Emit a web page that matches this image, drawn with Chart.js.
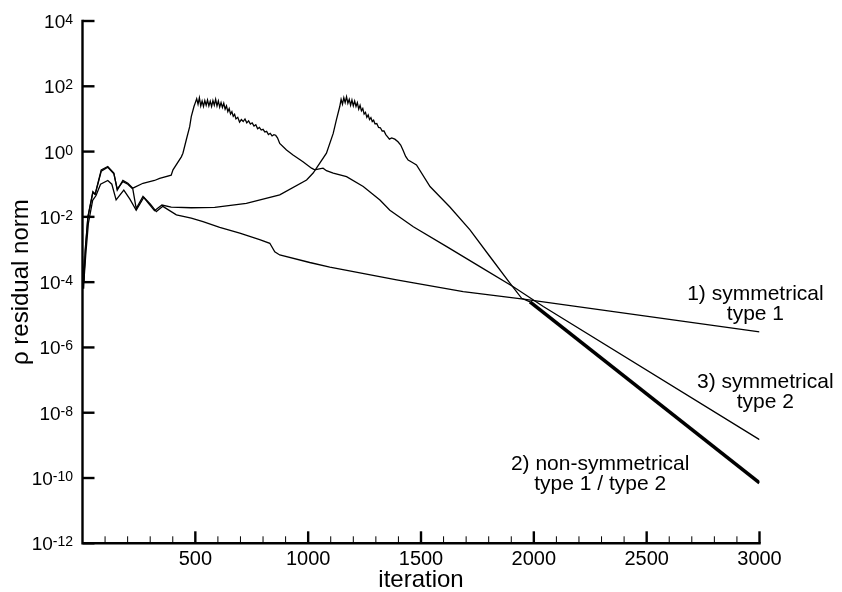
<!DOCTYPE html>
<html>
<head>
<meta charset="utf-8">
<script src="https://cdn.jsdelivr.net/npm/chart.js@4.4.1/dist/chart.umd.min.js"></script>
<style>
  html, body { margin: 0; padding: 0; background: #fff; }
  #wrap { width: 842px; height: 592px; position: relative; }
</style>
</head>
<body>
<div id="wrap"><canvas id="myChart"></canvas></div>
<script>
// 1) symmetrical type 1
const iterSym1 = [0, 6, 14, 26, 45, 60, 80, 112, 130, 149, 183, 210, 238, 272, 300, 327, 356, 416, 482, 534, 608, 697, 785, 830, 852, 874, 1007, 1096, 1392, 1687, 1954, 3000];
const resSym1 = [2.5e-4, 1e-4, 6.3e-4, 6.3e-3, 3.2e-2, 4.5e-2, 0.10, 0.13, 0.10, 3.3e-2, 6.6e-2, 3.5e-2, 1.6e-2, 4.0e-2, 2.5e-2, 1.45e-2, 2.1e-2, 1.15e-2, 9.1e-3, 7.1e-3, 4.8e-3, 3.2e-3, 2.0e-3, 1.55e-3, 8.5e-4, 6.8e-4, 4.0e-4, 2.9e-4, 1.17e-4, 5.1e-5, 3.0e-5, 3.0e-6];

// 3) symmetrical type 2 (first peak)
const iterSym2 = [0, 5, 12, 24, 46, 56, 83, 112, 139, 154, 179, 201, 223, 268, 319, 342, 393, 401, 438, 445, 460, 475, 482, 494,
    500, 506, 512, 518, 524, 530, 536, 542, 548, 554, 560, 566, 572, 578, 584, 590, 596, 602, 608, 614, 620, 626, 632, 638, 644, 650,
    656, 662, 668, 674, 680, 688, 696, 704, 712, 720, 728, 736, 744, 752, 760, 768, 776, 784, 792, 800, 808, 816, 824, 832, 840, 848,
    856, 864, 874, 904, 933, 977, 1015, 1029, 1044, 1066, 1081, 1111, 1170, 1244, 1318, 1362, 1466, 1614, 1761, 1909, 2042, 3000];
const resSym2 = [5.0e-4, 6.3e-5, 1.0e-3, 1.0e-2, 5.9e-2, 5.0e-2, 0.275, 0.35, 0.22, 6.6e-2, 0.13, 0.107, 7.6e-2, 0.107, 0.13, 0.15, 0.19, 0.275, 0.69, 0.89, 2.3, 5.8, 11.7, 24,
    31.6, 41.7, 28.2, 44.7, 25.1, 35.5, 24.0, 36.3, 26.3, 38.0, 25.1, 34.7, 24.0, 36.3, 26.3, 39.8, 25.1, 35.5, 22.9, 31.6, 22.4, 30.2, 20.0, 25.1, 16.6, 20.9,
    14.1, 16.6, 12.0, 13.8, 10.0, 11.2, 7.94, 9.55, 8.32, 10.0, 7.59, 8.71, 6.92, 7.59, 6.03, 6.61, 5.01, 5.50, 4.57, 4.79, 3.98, 4.17, 3.31, 3.63, 3.02, 3.31,
    3.16, 2.63, 1.78, 1.12, 0.79, 0.49, 0.31, 0.275, 0.29, 0.31, 0.26, 0.22, 0.17, 8.5e-2, 3.3e-2, 1.6e-2, 5.0e-3, 1.23e-3, 3.0e-4, 7.2e-5, 1.8e-5, 1.5e-9];

// 2) non-symmetrical type 1 / type 2 (second peak)
const iterNonSym = [0, 5, 12, 24, 46, 56, 83, 112, 139, 154, 179, 201, 223, 238, 268, 319, 352, 393, 482, 586, 726, 874, 993, 1022, 1081, 1111, 1125,
    1140, 1146, 1152, 1158, 1164, 1170, 1176, 1182, 1188, 1194, 1200, 1206, 1212, 1218, 1224, 1230, 1236, 1242, 1248, 1254, 1260, 1266, 1272, 1278,
    1284, 1290, 1296, 1304, 1312, 1320, 1328, 1336, 1344, 1352, 1360, 1370, 1384, 1398, 1410, 1420, 1432, 1443, 1460, 1480,
    1540, 1628, 1717, 1806, 1894, 1946, 1983, 3000];
const resNonSym = [6.3e-4, 1.0e-4, 7.9e-4, 1.0e-2, 5.6e-2, 4.8e-2, 0.25, 0.33, 0.21, 7.1e-2, 0.12, 0.10, 7.1e-2, 1.8e-2, 4.2e-2, 1.55e-2, 2.3e-2, 2.0e-2, 1.9e-2, 1.95e-2, 2.6e-2, 4.7e-2, 0.135, 0.22, 0.89, 3.6, 9.3,
    24.0, 39.8, 28.2, 44.7, 31.6, 47.9, 30.2, 39.8, 26.3, 38.0, 25.1, 35.5, 24.0, 31.6, 20.0, 26.3, 17.8, 20.9, 14.1, 15.8, 11.2, 13.2, 9.55, 11.0,
    8.32, 9.12, 7.08, 7.24, 5.50, 5.37, 4.27, 4.27, 3.31, 2.82, 2.40, 2.63, 2.40, 2.0, 1.58, 1.12, 0.71, 0.55, 0.47, 0.39,
    8.5e-2, 2.0e-2, 4.0e-3, 6.0e-4, 9.3e-5, 3.2e-5, 2.5e-5, 7.1e-11];

const xMajorTicks = [500, 1000, 1500, 2000, 2500, 3000];
const xMinorTicks = [100, 200, 300, 400, 600, 700, 800, 900, 1100, 1200, 1300, 1400, 1600, 1700, 1800, 1900, 2100, 2200, 2300, 2400, 2600, 2700, 2800, 2900];
const yTickExponents = [4, 2, 0, -2, -4, -6, -8, -10, -12];

const curveNotes = [
    { lines: ["1) symmetrical", "type 1"], x: 2982, y: 2.85e-5 },
    { lines: ["3) symmetrical", "type 2"], x: 3026, y: 5.7e-8 },
    { lines: ["2) non-symmetrical", "type 1 / type 2"], x: 2294, y: 1.8e-10 }
];

const FONT = "'Liberation Sans', Arial, Helvetica, sans-serif";

const toPoints = (iters, values) => iters.map((it, i) => ({ x: it, y: values[i] }));

const axesPlugin = {
    id: "plotAxes",
    afterDatasetsDraw(chart) {
        const { ctx } = chart;
        const xs = chart.scales.x;
        const ys = chart.scales.y;
        const x0 = xs.getPixelForValue(0);
        const x1 = xs.getPixelForValue(3000);
        const yTop = ys.getPixelForValue(1e4);
        const yBot = ys.getPixelForValue(1e-12);

        ctx.save();
        ctx.strokeStyle = "#000";
        ctx.fillStyle = "#000";

        // axis lines
        ctx.lineWidth = 2.4;
        ctx.lineCap = "square";
        ctx.beginPath();
        ctx.moveTo(x0, yTop);
        ctx.lineTo(x0, yBot);
        ctx.lineTo(x1, yBot);
        ctx.stroke();
        ctx.lineCap = "butt";

        // y ticks + labels
        yTickExponents.forEach((e) => {
            const py = ys.getPixelForValue(Math.pow(10, e));
            ctx.lineWidth = 2.4;
            ctx.beginPath();
            ctx.moveTo(x0, py);
            ctx.lineTo(x0 + 12, py);
            ctx.stroke();

            const sup = String(e);
            ctx.font = "14px " + FONT;
            const supW = ctx.measureText(sup).width;
            const right = 73;
            ctx.textAlign = "right";
            ctx.textBaseline = "alphabetic";
            ctx.fillText(sup, right, py + 3);
            ctx.font = "19px " + FONT;
            ctx.fillText("10", right - supW, py + 7);
        });

        // x ticks + labels
        ctx.lineWidth = 1;
        xMinorTicks.forEach((v) => {
            const px = xs.getPixelForValue(v);
            ctx.beginPath();
            ctx.moveTo(px, yBot);
            ctx.lineTo(px, yBot - 7);
            ctx.stroke();
        });
        ctx.lineWidth = 2.4;
        ctx.font = "20px " + FONT;
        ctx.textAlign = "center";
        ctx.textBaseline = "alphabetic";
        xMajorTicks.forEach((v) => {
            const px = xs.getPixelForValue(v);
            ctx.beginPath();
            ctx.moveTo(px, yBot);
            ctx.lineTo(px, yBot - 12);
            ctx.stroke();
            ctx.fillText(String(v), px, yBot + 22);
        });

        // axis titles
        ctx.font = "24px " + FONT;
        ctx.fillText("iteration", (x0 + x1) / 2, 587);
        ctx.save();
        ctx.translate(28, (yTop + yBot) / 2);
        ctx.rotate(-Math.PI / 2);
        ctx.fillText("\u03c1 residual norm", 0, 0);
        ctx.restore();

        // curve notes
        ctx.font = "21px " + FONT;
        curveNotes.forEach((n) => {
            const px = xs.getPixelForValue(n.x);
            const py = ys.getPixelForValue(n.y);
            n.lines.forEach((line, i) => {
                ctx.fillText(line, px, py + i * 20);
            });
        });
        ctx.restore();
    }
};

const lineStyle = {
    borderColor: "#000",
    borderWidth: 1.3,
    pointRadius: 0,
    showLine: true,
    fill: false,
    tension: 0
};

const config = {
    type: "scatter",
    data: {
        datasets: [
            { ...lineStyle, label: "1) symmetrical type 1", data: toPoints(iterSym1, resSym1) },
            { ...lineStyle, label: "3) symmetrical type 2", data: toPoints(iterSym2, resSym2) },
            {
                ...lineStyle,
                label: "2) non-symmetrical type 1 / type 2",
                data: toPoints(iterNonSym, resNonSym),
                segment: {
                    borderWidth: (c) => (c.p0.parsed.x >= 1980 ? 3.6 : 1.3)
                }
            }
        ]
    },
    options: {
        responsive: true,
        maintainAspectRatio: false,
        animation: false,
        devicePixelRatio: 1,
        layout: { padding: { left: 82.5, right: 82.5, top: 21, bottom: 48.7 } },
        plugins: { legend: { display: false }, tooltip: { enabled: false } },
        scales: {
            x: { type: "linear", display: false, min: 0, max: 3000 },
            y: { type: "logarithmic", display: false, min: 1e-12, max: 1e4 }
        }
    },
    plugins: [axesPlugin]
};

const chart = document.getElementById("myChart");
let myChart = new Chart(chart, config);
</script>
</body>
</html>
